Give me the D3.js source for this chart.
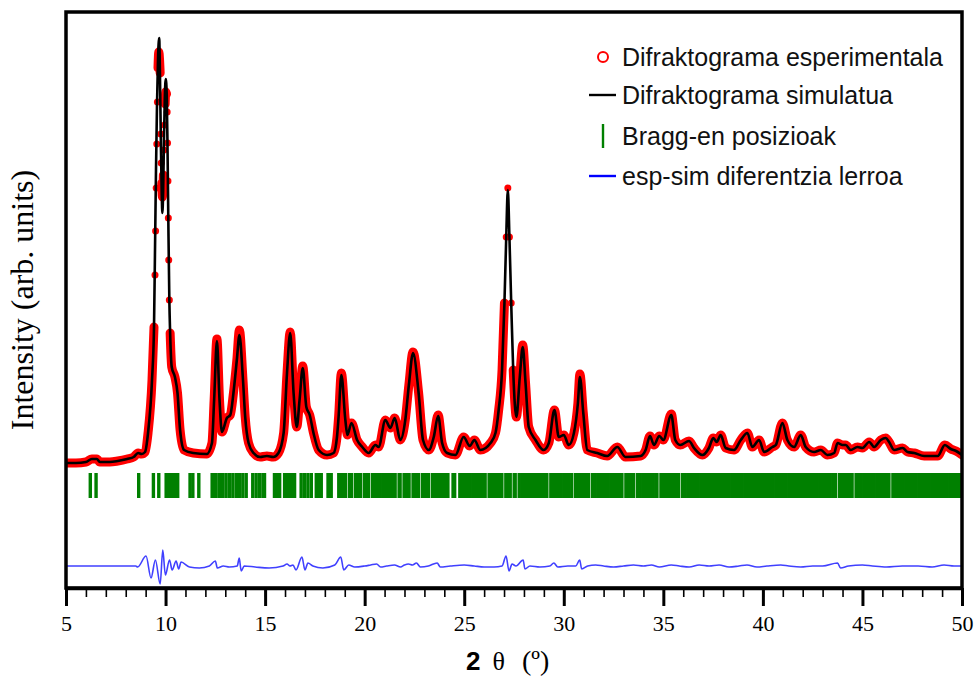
<!DOCTYPE html>
<html>
<head>
<meta charset="utf-8">
<script src="https://cdn.jsdelivr.net/npm/d3@7"></script>
<style>
body { margin: 0; background: #fff; }
</style>
</head>
<body>
<svg id="chart" width="975" height="676"></svg>
<script>
// experimental pattern [2theta, counts]
const obsData = [
  [5.00,280],[5.50,280],[6.00,320],[6.30,440],[6.55,440],[6.70,320],[7.20,320],[7.60,360],
  [8.07,440],[8.40,520],[8.62,680],[8.80,640],[8.97,720],[9.12,1480],[9.32,3600],[9.42,5720],
  [9.47,7800],[9.50,9560],[9.53,11280],[9.56,13040],[9.59,14720],[9.62,16080],[9.66,16720],
  [9.73,15880],[9.76,13440],[9.78,12280],[9.81,11480],[9.84,10920],[9.89,11800],[9.92,12800],
  [9.95,13800],[9.98,14640],[10.01,15120],[10.05,15040],[10.08,14320],[10.10,13080],[10.12,11560],
  [10.14,10080],[10.16,8400],[10.19,6800],[10.23,5480],[10.31,4120],[10.47,3720],[10.60,3080],
  [10.73,1600],[10.93,800],[11.39,680],[12.07,640],[12.33,1080],[12.44,2800],[12.58,5240],
  [12.71,2800],[12.83,1520],[13.08,2080],[13.25,2200],[13.41,3080],[13.58,4400],[13.71,5600],
  [13.88,3720],[14.00,2120],[14.17,1080],[14.42,680],[14.75,520],[15.09,560],[15.41,520],
  [15.67,680],[15.93,1480],[16.10,3880],[16.26,5520],[16.43,3080],[16.59,1720],[16.73,2800],
  [16.89,4160],[17.07,2520],[17.24,2200],[17.43,1480],[17.69,800],[18.11,600],[18.44,680],
  [18.61,1320],[18.69,2120],[18.83,3880],[19.03,2000],[19.13,1400],[19.34,1880],[19.62,1200],
  [19.88,920],[20.20,680],[20.54,1000],[20.70,920],[21.04,2000],[21.29,1680],[21.51,2080],
  [21.79,1200],[22.04,2000],[22.22,3400],[22.43,4720],[22.71,3080],[22.93,1200],[23.22,800],
  [23.47,1320],[23.69,2200],[23.89,1080],[24.14,680],[24.56,600],[24.97,1320],[25.28,960],
  [25.51,1200],[25.81,800],[26.32,1080],[26.57,1480],[26.73,2400],[26.90,4000],[27.02,6680],
  [27.11,9320],[27.19,11280],[27.27,9320],[27.36,6680],[27.46,4000],[27.62,2120],[27.79,3720],
  [27.94,5000],[28.08,3480],[28.24,1720],[28.58,1200],[28.99,800],[29.25,1080],[29.53,2400],
  [29.75,1320],[30.00,1400],[30.25,1000],[30.51,1480],[30.71,2680],[30.81,3840],[30.98,2280],
  [31.18,800],[31.68,680],[32.18,560],[32.69,920],[33.10,520],[33.86,560],[34.11,800],
  [34.33,1360],[34.53,1000],[34.80,1360],[35.00,1200],[35.40,2240],[35.60,1200],[35.85,1000],
  [36.29,1160],[36.54,880],[36.96,600],[37.29,880],[37.51,1280],[37.68,1120],[37.88,1400],
  [38.13,880],[38.55,800],[38.89,1200],[39.22,1480],[39.47,920],[39.81,1200],[40.06,720],
  [40.48,920],[40.65,1000],[40.98,1880],[41.23,1200],[41.57,920],[41.90,1400],[42.15,920],
  [42.57,720],[42.91,800],[43.24,600],[43.58,680],[43.75,1080],[44.00,1000],[44.16,1000],
  [44.41,800],[44.75,920],[45.00,880],[45.34,1120],[45.59,920],[45.92,1200],[46.17,1280],
  [46.34,1120],[46.59,800],[47.02,880],[47.27,720],[47.60,680],[48.10,560],[48.78,560],
  [49.14,1000],[49.44,840],[49.70,760],[50.00,600]
];

// simulated pattern [2theta, counts]
const calcData = [
  [5.00,280],[5.50,280],[6.00,320],[6.30,440],[6.55,440],[6.70,320],[7.20,320],[7.60,360],
  [8.07,440],[8.40,520],[8.62,680],[8.80,640],[8.97,720],[9.12,1480],[9.32,3600],[9.42,5720],
  [9.47,8800],[9.52,12000],[9.57,14600],[9.62,16400],[9.68,17280],[9.73,15200],[9.77,12800],
  [9.81,11000],[9.84,10280],[9.88,11200],[9.92,13200],[9.96,14800],[10.01,15640],[10.06,15000],
  [10.10,12800],[10.14,9920],[10.19,6800],[10.23,5480],[10.31,4120],[10.47,3720],[10.60,3080],
  [10.73,1600],[10.93,800],[11.39,680],[12.07,640],[12.33,1080],[12.44,2800],[12.58,5160],
  [12.71,2800],[12.83,1520],[13.08,2080],[13.25,2200],[13.41,3080],[13.58,4400],[13.71,5400],
  [13.88,3720],[14.00,2120],[14.17,1080],[14.42,680],[14.75,520],[15.09,560],[15.41,520],
  [15.67,680],[15.93,1480],[16.10,3880],[16.26,5480],[16.43,3080],[16.59,1720],[16.73,2800],
  [16.89,4080],[17.07,2520],[17.24,2200],[17.43,1480],[17.69,800],[18.11,600],[18.44,680],
  [18.61,1320],[18.69,2120],[18.83,3800],[19.03,2000],[19.13,1400],[19.34,1880],[19.62,1200],
  [19.88,920],[20.20,680],[20.54,1000],[20.70,920],[21.04,2000],[21.29,1680],[21.51,2080],
  [21.79,1200],[22.04,2000],[22.22,3400],[22.43,4680],[22.71,3080],[22.93,1200],[23.22,800],
  [23.47,1320],[23.69,2160],[23.89,1080],[24.14,680],[24.56,600],[24.97,1320],[25.28,960],
  [25.51,1200],[25.81,800],[26.32,1080],[26.57,1480],[26.73,2400],[26.90,4000],[27.02,6680],
  [27.11,9320],[27.19,11200],[27.27,9320],[27.36,6680],[27.46,4000],[27.62,2120],[27.79,3720],
  [27.94,4920],[28.08,3480],[28.24,1720],[28.58,1200],[28.99,800],[29.25,1080],[29.53,2400],
  [29.75,1320],[30.00,1400],[30.25,1000],[30.51,1480],[30.71,2680],[30.81,3720],[30.98,2280],
  [31.18,800],[31.68,680],[32.18,560],[32.69,920],[33.10,520],[33.86,560],[34.11,800],
  [34.33,1360],[34.53,1000],[34.80,1360],[35.00,1200],[35.40,2200],[35.60,1200],[35.85,1000],
  [36.29,1160],[36.54,880],[36.96,600],[37.29,880],[37.51,1280],[37.68,1120],[37.88,1400],
  [38.13,880],[38.55,800],[38.89,1200],[39.22,1480],[39.47,920],[39.81,1200],[40.06,720],
  [40.48,920],[40.65,1000],[40.98,1880],[41.23,1200],[41.57,920],[41.90,1400],[42.15,920],
  [42.57,720],[42.91,800],[43.24,600],[43.58,680],[43.75,1080],[44.00,1000],[44.16,1000],
  [44.41,800],[44.75,920],[45.00,880],[45.34,1120],[45.59,920],[45.92,1200],[46.17,1280],
  [46.34,1120],[46.59,800],[47.02,880],[47.27,720],[47.60,680],[48.10,560],[48.78,560],
  [49.14,1000],[49.44,840],[49.70,760],[50.00,600]
];

// difference exp - sim [2theta, counts]
const diffData = [
  [5.0,0],[8.5,0],[8.6,-40],[9.02,400],[9.27,-480],[9.49,240],[9.73,-720],[9.86,640],
  [9.99,-360],[10.2,240],[10.33,-160],[10.53,200],[10.66,-120],[10.78,160],[11.2,-40],
  [11.7,-80],[12.2,0],[12.5,200],[12.6,-80],[12.9,0],[13.2,-40],[13.6,0],[13.7,320],
  [13.8,-200],[13.95,0],[14.5,-40],[15.2,-80],[15.9,0],[16.1,80],[16.25,0],[16.4,40],
  [16.55,-160],[16.85,360],[17.0,-160],[17.15,120],[17.4,0],[17.9,-80],[18.5,40],
  [18.8,360],[18.95,-160],[19.2,40],[19.5,-40],[20.0,0],[20.3,40],[20.6,80],[20.8,-40],
  [21.1,0],[21.5,40],[21.8,-40],[22.0,40],[22.2,80],[22.4,40],[22.6,120],[22.8,-40],
  [23.2,0],[23.64,120],[23.8,-40],[24.3,0],[25.0,40],[25.5,0],[26.0,-40],[26.5,-40],
  [26.9,0],[27.1,400],[27.25,-200],[27.4,80],[27.6,0],[27.96,240],[28.05,-120],[28.3,0],
  [28.8,-40],[29.3,0],[29.5,120],[29.7,-40],[30.2,0],[30.6,0],[30.8,240],[30.9,-120],
  [31.2,0],[31.6,40],[32.0,0],[32.5,-40],[33.0,0],[33.5,40],[34.0,0],[34.4,40],[34.8,-40],
  [35.4,40],[35.8,0],[36.3,-40],[36.8,40],[37.3,0],[37.8,40],[38.3,-40],[38.8,0],[39.2,40],
  [39.7,-40],[40.2,0],[40.9,40],[41.3,0],[41.9,-40],[42.5,0],[43.0,0],[43.75,120],
  [43.9,-80],[44.3,0],[45.0,40],[45.5,0],[46.2,-40],[47.0,0],[47.8,0],[48.5,-40],
  [49.1,40],[49.6,0],[50.0,0]
];

// Bragg reflection positions (2theta)
const braggPos = [
  6.22,6.51,8.65,9.39,9.66,10.03,10.16,10.30,10.45,10.53,10.61,11.23,11.37,11.67,
  12.34,12.41,12.46,12.54,12.71,12.79,12.88,13.04,13.21,13.38,13.55,13.63,13.71,13.88,
  14.05,14.38,14.55,14.72,14.89,14.97,15.47,15.56,15.64,15.73,15.98,16.06,16.14,16.23,
  16.35,16.48,16.81,16.98,17.15,17.32,17.57,17.69,17.82,18.16,18.24,18.32,
  18.70,18.83,18.96,19.03,19.23,19.33,19.53,19.66,19.78,19.98,20.11,20.19,20.39,20.52,
  20.65,20.78,20.91,21.04,21.17,21.30,21.43,21.53,21.73,21.78,21.98,22.11,22.23,22.43,
  22.56,22.70,22.90,23.03,23.16,23.20,23.40,23.53,23.66,23.79,23.92,24.05,24.18,24.44,
  24.52,24.78,24.91,25.04,25.17,25.30,25.43,25.56,25.69,25.82,25.95,26.05,26.25,26.38,
  26.51,26.64,26.77,26.89,27.09,27.22,27.31,27.51,27.56,27.76,27.89,28.02,28.15,28.28,
  28.41,28.54,28.67,28.80,28.93,29.06,29.15,29.35,29.48,29.61,29.74,29.87,30.00,30.13,
  30.26,30.40,30.60,30.73,30.86,30.99,31.12,31.25,31.45,31.58,31.71,31.84,31.97,32.10,
  32.23,32.36,32.49,32.62,32.75,32.88,32.92,33.12,33.25,33.38,33.51,33.71,33.84,33.97,
  34.10,34.23,34.36,34.49,34.62,34.68,34.88,35.01,35.14,35.27,35.40,35.53,35.66,35.77,
  35.97,36.10,36.23,36.36,36.49,36.62,36.75,36.88,37.01,37.14,37.27,37.40,37.53,37.66,
  37.79,37.92,38.05,38.18,38.31,38.44,38.57,38.70,38.83,38.96,39.09,39.22,39.35,39.48,
  39.61,39.74,39.87,40.00,40.13,40.26,40.39,40.52,40.65,40.78,40.91,41.04,41.17,41.30,
  41.43,41.56,41.69,41.82,41.95,42.08,42.21,42.34,42.47,42.60,42.73,42.86,42.99,43.12,
  43.25,43.38,43.51,43.65,43.85,43.98,44.11,44.24,44.37,44.48,44.68,44.81,44.94,45.07,
  45.20,45.33,45.46,45.59,45.72,45.85,45.98,46.11,46.24,46.33,46.53,46.66,46.79,46.92,
  47.05,47.18,47.31,47.44,47.57,47.70,47.83,47.96,48.09,48.22,48.35,48.48,48.61,48.74,
  48.87,49.00,49.13,49.26,49.39,49.52,49.65,49.78,49.91,49.97
];

const majorTicks = [5, 10, 15, 20, 25, 30, 35, 40, 45, 50];
const legendLabels = ['Difraktograma esperimentala', 'Difraktograma simulatua',
  'Bragg-en posizioak', 'esp-sim diferentzia lerroa'];

const svg = d3.select('#chart');
const plotLeft = 66, plotRight = 962, plotTop = 12, plotBottom = 588;

const x = d3.scaleLinear().domain([5, 50]).range([plotLeft, plotRight]);
const y = d3.scaleLinear().domain([-4720, 18320]).range([plotBottom, plotTop]);

const diffOffset = -3840;   // where the difference curve sits
const braggTop = -120, braggBottom = -1120;

svg.append('clipPath').attr('id', 'plotclip')
  .append('rect').attr('x', plotLeft).attr('y', plotTop)
  .attr('width', plotRight - plotLeft).attr('height', plotBottom - plotTop);

const plot = svg.append('g').attr('clip-path', 'url(#plotclip)');

// red band: dense experimental points, broken where the flank is very steep
const runs = [];
let cur = [obsData[0]];
for (let i = 1; i < obsData.length; i++) {
  const dx = x(obsData[i][0]) - x(obsData[i - 1][0]);
  const dy = Math.abs(y(obsData[i][1]) - y(obsData[i - 1][1]));
  if (dy / dx < 30) cur.push(obsData[i]);
  else { if (cur.length > 1) runs.push(cur); cur = [obsData[i]]; }
}
if (cur.length > 1) runs.push(cur);

const line = d3.line()
  .x(d => x(d[0]))
  .y(d => y(d[1]))
  .curve(d3.curveMonotoneX);

plot.selectAll('.band')
  .data(runs)
  .enter().append('path')
  .attr('class', 'band')
  .attr('d', line)
  .style('fill', 'none')
  .style('stroke', '#ff0000')
  .style('stroke-width', 9)
  .style('stroke-linejoin', 'round')
  .style('stroke-linecap', 'round');

plot.selectAll('.obs')
  .data(obsData)
  .enter().append('circle')
  .attr('class', 'obs')
  .attr('cx', d => x(d[0]))
  .attr('cy', d => y(d[1]))
  .attr('r', 3.5)
  .style('fill', '#ff0000');

plot.append('path')
  .datum(calcData)
  .attr('d', line)
  .style('fill', 'none')
  .style('stroke', 'black')
  .style('stroke-width', 2.6);

// Bragg ticks
plot.selectAll('.bragg')
  .data(braggPos)
  .enter().append('line')
  .attr('class', 'bragg')
  .attr('x1', d => x(d)).attr('x2', d => x(d))
  .attr('y1', y(braggTop)).attr('y2', y(braggBottom))
  .style('stroke', '#008000')
  .style('stroke-width', 3.4);

// difference curve
plot.append('path')
  .datum(diffData)
  .attr('d', d3.line()
    .x(d => x(d[0]))
    .y(d => y(d[1] + diffOffset))
    .curve(d3.curveMonotoneX))
  .style('fill', 'none')
  .style('stroke', '#4040ff')
  .style('stroke-width', 1.6);

// frame
svg.append('rect')
  .attr('x', plotLeft).attr('y', plotTop)
  .attr('width', plotRight - plotLeft).attr('height', plotBottom - plotTop)
  .style('fill', 'none')
  .style('stroke', 'black')
  .style('stroke-width', 3.5);

// x axis
const minorAxis = svg.append('g')
  .attr('transform', 'translate(0,' + plotBottom + ')')
  .call(d3.axisBottom(x).ticks(45).tickSize(9).tickSizeOuter(0).tickFormat(''));
minorAxis.select('.domain').remove();
minorAxis.selectAll('line').style('stroke-width', 1.6);

const majorAxis = svg.append('g')
  .attr('transform', 'translate(0,' + plotBottom + ')')
  .call(d3.axisBottom(x).tickValues(majorTicks).tickSize(18).tickSizeOuter(0).tickFormat(d3.format('d')));
majorAxis.select('.domain').style('stroke-width', 3.5);
majorAxis.selectAll('line').style('stroke-width', 3);
majorAxis.selectAll('text')
  .attr('y', 43).attr('dy', 0)
  .style('font-family', '"Liberation Serif", "Times New Roman", serif')
  .style('font-size', '22px')
  .style('fill', 'black');

// axis titles
const xt = svg.append('text')
  .attr('x', 466).attr('y', 670)
  .style('fill', 'black');
xt.append('tspan').text('2')
  .style('font-family', '"Liberation Sans", Arial, sans-serif')
  .style('font-weight', 'bold')
  .style('font-size', '26px');
xt.append('tspan').text('θ').attr('dx', 12)
  .style('font-family', '"Liberation Serif", "Times New Roman", serif')
  .style('font-size', '26px');
xt.append('tspan').text('(º)').attr('dx', 17)
  .style('font-family', '"Liberation Serif", "Times New Roman", serif')
  .style('font-size', '28px');

svg.append('text')
  .attr('transform', 'translate(33,300) rotate(-90)')
  .attr('text-anchor', 'middle')
  .style('font-family', '"Liberation Serif", "Times New Roman", serif')
  .style('font-size', '32px')
  .style('fill', 'black')
  .text('Intensity (arb. units)');

// legend
const legend = svg.append('g');
const rowY = [57, 95, 136, 176];
legend.append('circle')
  .attr('cx', 603).attr('cy', rowY[0]).attr('r', 5)
  .style('fill', 'white').style('stroke', '#ff0000').style('stroke-width', 2);
legend.append('line')
  .attr('x1', 589).attr('x2', 616).attr('y1', rowY[1]).attr('y2', rowY[1])
  .style('stroke', 'black').style('stroke-width', 2.4);
legend.append('line')
  .attr('x1', 603).attr('x2', 603).attr('y1', rowY[2] - 12).attr('y2', rowY[2] + 12)
  .style('stroke', '#008000').style('stroke-width', 2.4);
legend.append('line')
  .attr('x1', 589).attr('x2', 616).attr('y1', rowY[3]).attr('y2', rowY[3])
  .style('stroke', 'blue').style('stroke-width', 2.4);

legend.selectAll('.lab')
  .data(legendLabels)
  .enter().append('text')
  .attr('class', 'lab')
  .attr('x', 622)
  .attr('y', (d, i) => rowY[i] + 9)
  .style('font-family', '"Liberation Sans", Arial, sans-serif')
  .style('font-size', '25px')
  .style('fill', '#111')
  .text(d => d);
</script>
</body>
</html>
